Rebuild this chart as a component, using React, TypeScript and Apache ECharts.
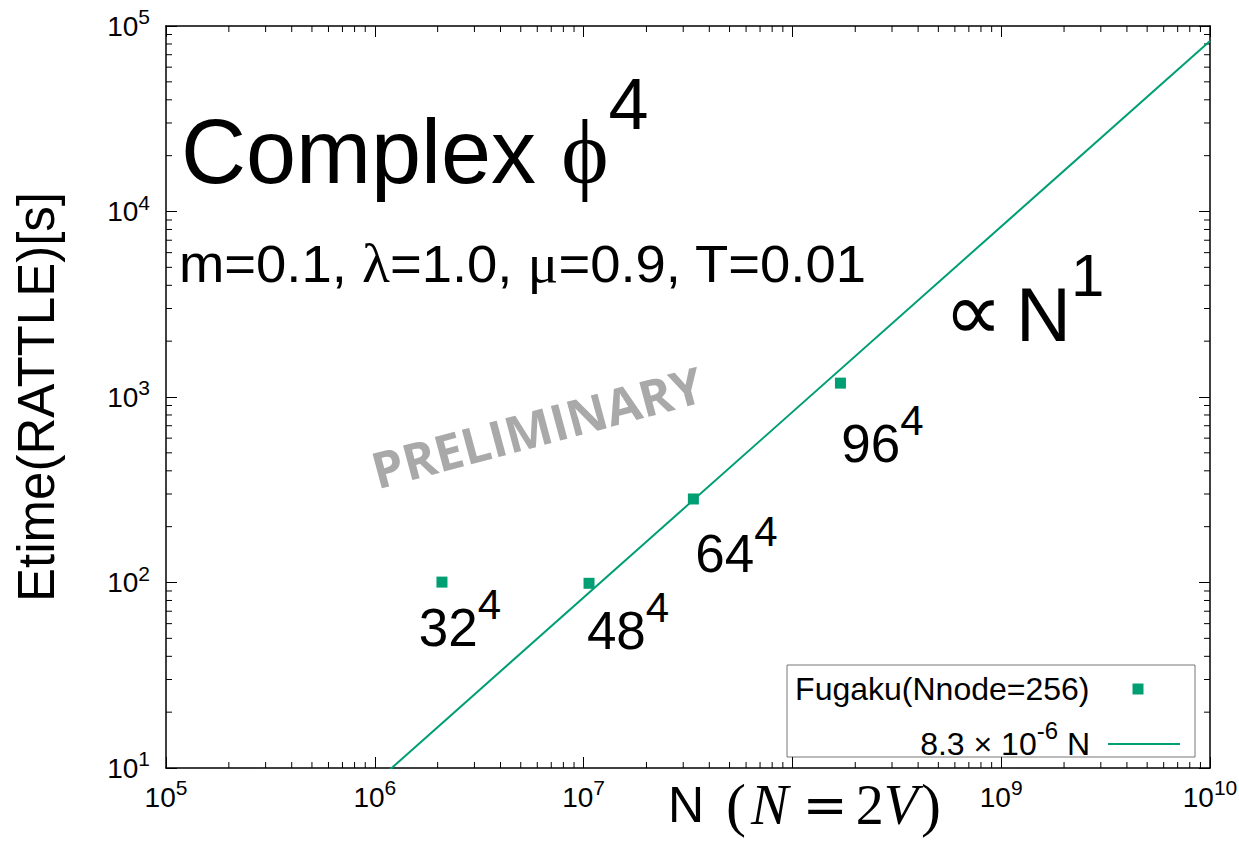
import React, { useEffect, useRef } from 'react';
import * as echarts from 'echarts';

// Axis ranges (log-log)
const X_MIN = 1e5;
const X_MAX = 1e10;
const Y_MIN = 1e1;
const Y_MAX = 1e5;
// decade label on the N axis that sits under the axis title
const HIDDEN_X_EXPONENTS = [8];

// Lattice extents L (volume V = L^4, N = 2V) and measured RATTLE times [s]
const LATTICE_SIZES = [32, 48, 64, 96];
const LATTICE_DIM = 4;
const ETIME_SECONDS = [100.5, 99, 282, 1188];

// Linear fit: Etime = 8.3 x 10^-6 N
const FIT_MANTISSA = 8.3;
const FIT_EXPONENT = -6;
const FIT_COEF = FIT_MANTISSA * Math.pow(10, FIT_EXPONENT);

const SERIES_NAME = 'Fugaku(Nnode=256)';
const FIT_NAME = `${FIT_MANTISSA} × 10^${FIT_EXPONENT} N`;

// Label offsets for the lattice annotations (label centre relative to marker)
const LABEL_OFFSETS = [
  [18, 45],
  [39, 47],
  [43, 55],
  [42, 60],
];

const GREEN = '#009e73';
const SANS = 'Liberation Sans';
const SERIF = 'Liberation Serif';
const MAJOR_TICK = 11;
const MINOR_TICK = 6;

function minorTicks(lo: number, hi: number): number[] {
  const out: number[] = [];
  for (let e = Math.round(Math.log10(lo)); e < Math.round(Math.log10(hi)); e++) {
    for (let k = 2; k <= 9; k++) out.push(k * Math.pow(10, e));
  }
  return out;
}

const powLabel = (hidden: number[]) => (v: number) => {
  const e = Math.round(Math.log10(v));
  return hidden.includes(e) ? '' : `{b|10}{s|${e}}`;
};

const tickRich = {
  b: { fontSize: 28, lineHeight: 28, verticalAlign: 'bottom', fontFamily: SANS, color: '#000' },
  s: { fontSize: 21, lineHeight: 21, verticalAlign: 'bottom', fontFamily: SANS, color: '#000', padding: [0, 0, 13, 0] },
};

function logAxis(pos: string, min: number, max: number, showLabel: boolean, margin: number, hidden: number[] = []) {
  return {
    type: 'log',
    logBase: 10,
    position: pos,
    min,
    max,
    axisLine: { show: true, onZero: false, lineStyle: { color: '#000', width: 1.5 } },
    axisTick: { show: true, inside: true, length: MAJOR_TICK, lineStyle: { color: '#000', width: 1 } },
    minorTick: { show: false },
    splitLine: { show: false },
    axisLabel: {
      show: showLabel,
      margin,
      formatter: powLabel(hidden),
      rich: tickRich,
    },
  };
}

const legendText = {
  fontSize: 32,
  fontFamily: SANS,
  color: '#000',
  rich: {
    n: { fontSize: 32, lineHeight: 32, verticalAlign: 'bottom', fontFamily: SANS, color: '#000' },
    s: { fontSize: 24, lineHeight: 24, verticalAlign: 'bottom', fontFamily: SANS, color: '#000', padding: [0, 0, 18, 0] },
  },
};

export default function App() {
  const ref = useRef<HTMLDivElement>(null);

  useEffect(() => {
    if (!ref.current) return;
    const chart = echarts.init(ref.current, null, { renderer: 'svg' });

    const points = LATTICE_SIZES.map((L, i) => ({
      value: [2 * Math.pow(L, LATTICE_DIM), ETIME_SECONDS[i]],
      label: { offset: LABEL_OFFSETS[i] },
    }));

    const fitLine = [X_MIN, X_MAX].map((n) => [n, FIT_COEF * n]);

    const tickData = [
      ...minorTicks(X_MIN, X_MAX).map((v) => [v, Y_MIN, 0]),
      ...minorTicks(Y_MIN, Y_MAX).map((v) => [X_MIN, v, 1]),
    ];

    const option: any = {
      animation: false,
      backgroundColor: '#fff',
      grid: {
        left: 166,
        top: 26,
        right: 29,
        bottom: 74,
        containLabel: false,
        outerBoundsMode: 'none',
      },
      xAxis: [
        logAxis('bottom', X_MIN, X_MAX, true, 15, HIDDEN_X_EXPONENTS),
        logAxis('top', X_MIN, X_MAX, false, 9),
      ],
      yAxis: [
        {
          ...logAxis('left', Y_MIN, Y_MAX, true, 16),
          name: 'Etime(RATTLE)[s]',
          nameLocation: 'middle',
          nameRotate: 90,
          nameGap: 104,
          nameTextStyle: { fontSize: 51, fontFamily: SANS, color: '#000' },
        },
        logAxis('right', Y_MIN, Y_MAX, false, 16),
      ],
      legend: [
        {
          orient: 'vertical',
          right: 95.5,
          top: 673,
          align: 'right',
          icon: 'rect',
          itemWidth: 11,
          itemHeight: 11,
          padding: 0,
          selectedMode: false,
          data: [SERIES_NAME],
          textStyle: { ...legendText, padding: [0, 38, 0, 0] },
        },
        {
          orient: 'vertical',
          right: 59,
          top: 718,
          align: 'right',
          icon: 'rect',
          itemWidth: 72,
          itemHeight: 2,
          padding: 0,
          selectedMode: false,
          data: [FIT_NAME],
          formatter: () => `{n|${FIT_MANTISSA} × 10}{s|${FIT_EXPONENT}}{n| N}`,
          textStyle: { ...legendText, padding: [0, 13, 0, 0] },
        },
      ],
      series: [
        {
          name: FIT_NAME,
          type: 'line',
          data: fitLine,
          symbol: 'none',
          clip: true,
          lineStyle: { color: GREEN, width: 2 },
          itemStyle: { color: GREEN },
          z: 2,
        },
        {
          name: SERIES_NAME,
          type: 'scatter',
          data: points,
          symbol: 'rect',
          symbolSize: 11,
          itemStyle: { color: GREEN, opacity: 1 },
          z: 3,
          label: {
            show: true,
            position: 'inside',
            align: 'center',
            verticalAlign: 'middle',
            color: '#000',
            textBorderWidth: 0,
            formatter: (p: any) => `{b|${LATTICE_SIZES[p.dataIndex]}}{s|${LATTICE_DIM}}`,
            rich: {
              b: { fontSize: 53, lineHeight: 53, verticalAlign: 'bottom', fontFamily: SANS, color: '#000' },
              s: { fontSize: 42, lineHeight: 42, verticalAlign: 'bottom', fontFamily: SANS, color: '#000', padding: [0, 0, 28, 0] },
            },
          },
        },
        {
          // minor log ticks on all four sides of the frame
          type: 'custom',
          silent: true,
          data: tickData,
          z: 1,
          renderItem: (params: any, api: any) => {
            const cs = params.coordSys;
            const p = api.coord([api.value(0), api.value(1)]);
            const style = { stroke: '#000', lineWidth: 1 };
            if (api.value(2) === 0) {
              const yb = cs.y + cs.height;
              return {
                type: 'group',
                children: [
                  { type: 'line', shape: { x1: p[0], y1: yb, x2: p[0], y2: yb - MINOR_TICK }, style },
                  { type: 'line', shape: { x1: p[0], y1: cs.y, x2: p[0], y2: cs.y + MINOR_TICK }, style },
                ],
              };
            }
            const xr = cs.x + cs.width;
            return {
              type: 'group',
              children: [
                { type: 'line', shape: { x1: cs.x, y1: p[1], x2: cs.x + MINOR_TICK, y2: p[1] }, style },
                { type: 'line', shape: { x1: xr, y1: p[1], x2: xr - MINOR_TICK, y2: p[1] }, style },
              ],
            };
          },
        },
      ],
      graphic: [
        {
          // legend frame
          type: 'rect',
          shape: { x: 787, y: 665, width: 408, height: 92 },
          style: { fill: 'none', stroke: '#777', lineWidth: 1 },
          silent: true,
        },
        {
          type: 'text',
          x: 181,
          y: 107,
          style: {
            text: `{c|Complex }{f|\u03D5}{s|${LATTICE_DIM}}`,
            align: 'left',
            verticalAlign: 'top',
            rich: {
              c: { fontSize: 90, lineHeight: 90, verticalAlign: 'bottom', fontFamily: SANS, fill: '#000' },
              f: { fontSize: 90, lineHeight: 90, verticalAlign: 'bottom', fontFamily: `${SERIF}, DejaVu Serif`, fill: '#000' },
              s: { fontSize: 72, lineHeight: 72, verticalAlign: 'bottom', fontFamily: SANS, fill: '#000', padding: [0, 0, 57, 0] },
            },
          },
        },
        {
          type: 'text',
          x: 179,
          y: 264,
          scaleX: 1.067,
          style: {
            text: '{t|m=0.1, }{g|λ}{t|=1.0, }{g|μ}{t|=0.9, T=0.01}',
            align: 'left',
            verticalAlign: 'middle',
            rich: {
              t: { fontSize: 51, fontFamily: SANS, fill: '#000' },
              g: { fontSize: 54, fontFamily: SERIF, fill: '#000' },
            },
          },
        },
        {
          type: 'text',
          x: 944,
          y: 276,
          style: {
            text: '{p|∝}{n|N}{s|1}',
            align: 'left',
            verticalAlign: 'top',
            rich: {
              p: { fontSize: 82, lineHeight: 76, width: 72, verticalAlign: 'bottom', fontFamily: 'DejaVu Sans', fill: '#000' },
              n: { fontSize: 76, lineHeight: 76, verticalAlign: 'bottom', fontFamily: SANS, fill: '#000' },
              s: { fontSize: 60, lineHeight: 60, verticalAlign: 'bottom', fontFamily: SANS, fill: '#000', padding: [0, 0, 47, 0] },
            },
          },
        },
        {
          type: 'text',
          x: 537,
          y: 427,
          rotation: (15 * Math.PI) / 180,
          style: {
            text: 'PRELIMINARY',
            align: 'center',
            verticalAlign: 'middle',
            fontSize: 50,
            fontWeight: 'bold',
            fontFamily: 'Open Sans',
            fill: '#a9a9a9',
          },
        },
        {
          type: 'text',
          x: 668,
          y: 805,
          style: {
            text: '{n|N}{g1| }{p|(}{g2| }{i|N}{g3| }{e|=}{g4| }{m|2}{i|V}{g5| }{p|)}',
            align: 'left',
            verticalAlign: 'middle',
            rich: {
              n: { fontSize: 50, fontFamily: SANS, fill: '#000' },
              p: { fontSize: 60, fontFamily: SERIF, fill: '#000' },
              i: { fontSize: 56, fontFamily: SERIF, fontStyle: 'italic', fill: '#000' },
              e: { fontSize: 54, fontFamily: 'DejaVu Serif', fill: '#000' },
              m: { fontSize: 56, fontFamily: SERIF, fill: '#000' },
              g1: { width: 22, fontSize: 20 },
              g2: { width: 5, fontSize: 20 },
              g3: { width: 14, fontSize: 20 },
              g4: { width: 8, fontSize: 20 },
              g5: { width: 3, fontSize: 20 },
            },
          },
        },
      ],
    };

    chart.setOption(option);
    return () => chart.dispose();
  }, []);

  return (
    <div
      ref={ref}
      style={{ position: 'fixed', left: 0, top: 0, width: 1239, height: 842, background: '#fff' }}
    />
  );
}
